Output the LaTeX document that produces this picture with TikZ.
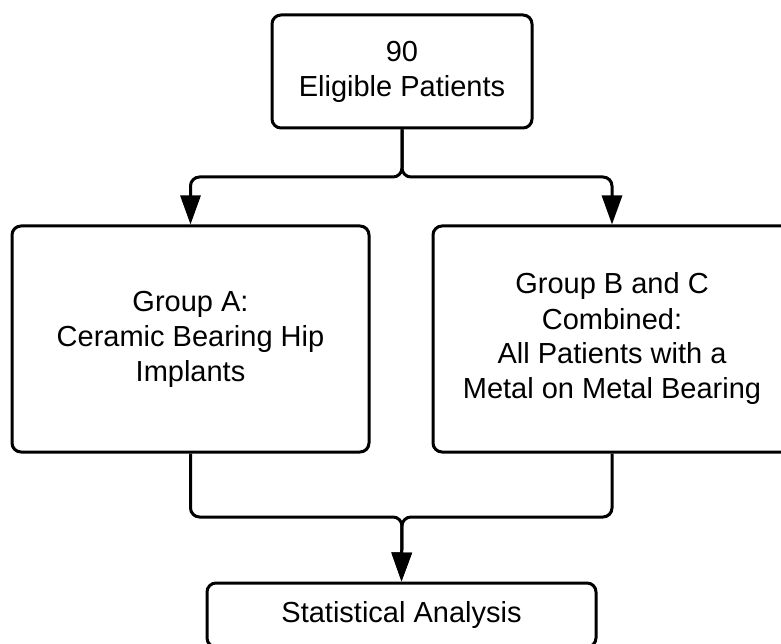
\documentclass[tikz,border=0pt]{standalone}
\usepackage{fontspec}
\setmainfont{Liberation Sans}
\usetikzlibrary{positioning,arrows.meta}

\begin{document}
\begin{tikzpicture}
[x=1pt,y=-1pt,
box/.style={draw,line width=3pt,rounded corners=9pt,align=center,
  font=\fontsize{29}{35}\selectfont,inner sep=0pt},
link/.style={line width=3pt,rounded corners=9pt,
  -{Triangle[length=29pt,width=20pt]}},
mergeline/.style={line width=3pt,rounded corners=9pt}]
\useasboundingbox (0,0) rectangle (781,644);
\node[box,minimum width=260pt,minimum height=113pt](elig) at (402,71.5){90\\Eligible Patients};
\node[box,minimum width=357pt,minimum height=226pt](grpa) at (190.5,339){Group A:\\Ceramic Bearing Hip\\Implants};
\node[box,minimum width=358pt,minimum height=226pt](grpbc) at (612,339){Group B and C\\Combined:\\All Patients with a\\Metal on Metal Bearing};
\node[box,minimum width=389pt,minimum height=64pt](stat) at (401.5,615){Statistical Analysis};
\coordinate (split) at (402,177);
\coordinate (merge) at (402,517);
\draw[link] (elig.south) -- (split) -| (grpa.north);
\draw[link] (elig.south) -- (split) -| (grpbc.north);
\draw[link] (grpbc.south) |- (merge) -- (stat.north);
\draw[link] (grpa.south) |- (merge) -- (stat.north);
\end{tikzpicture}
\end{document}
